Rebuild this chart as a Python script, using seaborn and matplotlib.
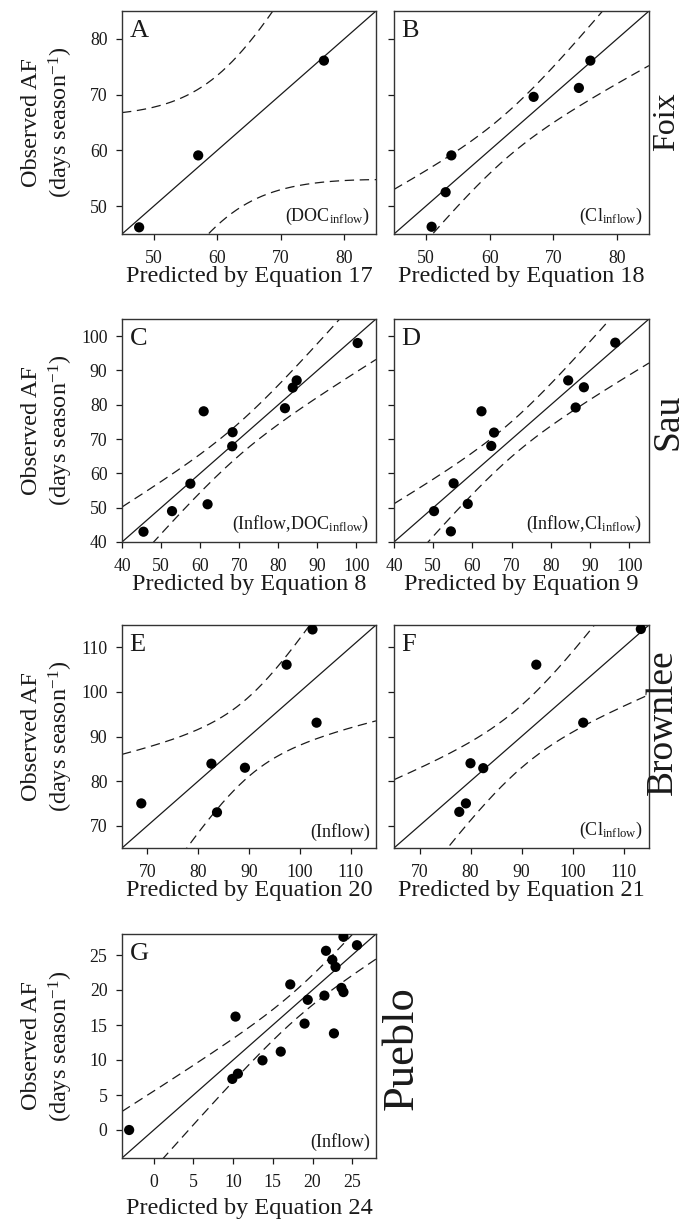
import numpy as np
import matplotlib
matplotlib.use("Agg")
import matplotlib.pyplot as plt
import seaborn as sns

# Observed vs predicted algal-bloom frequency (AF) for each reservoir model
a_pred = [47.7, 57.0, 76.8]
a_obs = [46.2, 59.1, 76.1]

b_pred = [50.9, 53.1, 54.0, 66.9, 74.0, 75.8]
b_obs = [46.3, 52.5, 59.1, 69.6, 71.2, 76.1]

c_pred = [45.5, 52.8, 57.5, 60.9, 61.9, 68.2, 68.3, 81.7, 83.7, 84.7, 100.3]
c_obs = [43.0, 49.0, 57.0, 78.1, 51.0, 67.9, 72.0, 79.0, 85.0, 87.1, 98.0]

d_pred = [50.2, 54.5, 55.2, 58.8, 62.3, 64.8, 65.5, 84.4, 86.3, 88.4, 96.4]
d_obs = [49.0, 43.1, 57.1, 51.1, 78.1, 68.0, 71.9, 87.1, 79.2, 85.1, 98.1]

e_pred = [68.8, 82.6, 83.7, 89.2, 97.4, 102.5, 103.3]
e_obs = [75.0, 83.9, 73.0, 83.0, 106.1, 114.0, 93.1]

f_pred = [77.8, 79.1, 80.0, 82.5, 92.9, 102.1, 113.4]
f_obs = [73.1, 75.0, 84.0, 82.9, 106.1, 93.1, 114.1]

g_pred = [-3.1, 9.9, 10.6, 10.3, 13.7, 16.0, 17.2, 19.0, 19.4, 21.5,
          21.7, 22.5, 22.9, 22.7, 23.65, 23.9, 23.9, 25.6]
g_obs = [0.0, 7.3, 8.05, 16.2, 9.95, 11.2, 20.8, 15.2, 18.6, 19.2,
         25.6, 24.3, 23.3, 13.8, 20.3, 19.7, 27.6, 26.4]

# standard error of estimate behind each 95% confidence band
band_se = [1.83, 3.56, 6.96, 7.5, 9.16, 7.2, 4.1]

panel_letters = ["A", "B", "C", "D", "E", "F", "G"]
equations = ["17", "18", "8", "9", "20", "21", "24"]
predictors = [r"(DOC$_{\mathrm{inflow}}$)", r"(Cl$_{\mathrm{inflow}}$)",
              r"(Inflow,DOC$_{\mathrm{inflow}}$)", r"(Inflow,Cl$_{\mathrm{inflow}}$)",
              "(Inflow)", r"(Cl$_{\mathrm{inflow}}$)", "(Inflow)"]
reservoirs = ["Foix", "Sau", "Brownlee", "Pueblo"]

axis_limits = [(45, 85), (45, 85), (40, 105), (40, 105), (65, 115), (65, 115), (-4, 28)]
axis_ticks = [[50, 60, 70, 80], [50, 60, 70, 80],
              [40, 50, 60, 70, 80, 90, 100], [40, 50, 60, 70, 80, 90, 100],
              [70, 80, 90, 100, 110], [70, 80, 90, 100, 110],
              [0, 5, 10, 15, 20, 25]]

# two-sided 95% Student t quantiles by degrees of freedom
T95 = {1: 12.706, 2: 4.303, 3: 3.182, 4: 2.776, 5: 2.571, 6: 2.447, 7: 2.365,
       8: 2.306, 9: 2.262, 10: 2.228, 11: 2.201, 12: 2.179, 13: 2.160,
       14: 2.145, 15: 2.131, 16: 2.120, 17: 2.110, 18: 2.101, 19: 2.093, 20: 2.086}

sns.set_theme(style="ticks")
plt.rcParams["font.family"] = ["Liberation Serif", "DejaVu Serif"]
plt.rcParams["mathtext.fontset"] = "custom"
plt.rcParams["mathtext.rm"] = "Liberation Serif"
plt.rcParams["mathtext.it"] = "Liberation Serif:italic"
plt.rcParams["mathtext.default"] = "regular"

W, H = 683, 1227
fig = plt.figure(figsize=(W / 100, H / 100), dpi=100)
fig.patch.set_facecolor("white")

cols = [(122, 376), (394, 649)]
rows = [(11, 234), (319, 542), (625, 848), (934, 1158)]
xlabel_y = [-0.145, -0.145, -0.145, -0.18]

data = [(a_pred, a_obs), (b_pred, b_obs), (c_pred, c_obs), (d_pred, d_obs),
        (e_pred, e_obs), (f_pred, f_obs), (g_pred, g_obs)]

ink = "#1a1a1a"

for i, (pred, obs) in enumerate(data):
    r, c = divmod(i, 2)
    left, right = cols[c]
    top, bottom = rows[r]
    ax = fig.add_axes([left / W, 1 - bottom / H, (right - left) / W, (bottom - top) / H])
    lo, hi = axis_limits[i]

    x = np.asarray(pred, dtype=float)
    y = np.asarray(obs, dtype=float)
    n = len(x)

    # observed-on-predicted regression is the 1:1 line; band = 95% CI of that line
    xbar = x.mean()
    sxx = np.sum((x - xbar) ** 2)
    grid = np.linspace(lo, hi, 300)
    fit = grid.copy()
    half = T95[n - 2] * band_se[i] * np.sqrt(1.0 / n + (grid - xbar) ** 2 / sxx)

    ax.plot(grid, fit, color=ink, lw=0.9, zorder=2)
    ax.plot(grid, fit + half, color=ink, lw=0.9, dashes=(7.5, 4.5), zorder=2)
    ax.plot(grid, fit - half, color=ink, lw=0.9, dashes=(7.5, 4.5), zorder=2)

    sns.scatterplot(x=x, y=y, ax=ax, color="black", s=54, edgecolor="none",
                    zorder=3, legend=False)

    ax.set_xlim(lo, hi)
    ax.set_ylim(lo, hi)
    ax.set_xticks(axis_ticks[i])
    ax.set_yticks(axis_ticks[i])
    ax.tick_params(axis="both", direction="out", length=4.5, width=0.9,
                   colors=ink, labelsize=12.8)
    ax.tick_params(axis="x", pad=7)
    ax.tick_params(axis="y", pad=6)
    for sp in ax.spines.values():
        sp.set_visible(True)
        sp.set_color("#333333")
        sp.set_linewidth(1.0)

    ax.set_xlabel(f"Predicted by Equation {equations[i]}", fontsize=17.5, color=ink)
    ax.xaxis.set_label_coords(0.5, xlabel_y[r])
    if c == 0:
        ax.set_ylabel("Observed AF\n(days season$^{-1}$)", fontsize=17.5, color=ink)
        ax.yaxis.set_label_coords(-0.187, 0.5)
    else:
        ax.set_ylabel("")
        ax.set_yticklabels([])

    ax.text(0.03, 0.958, panel_letters[i], transform=ax.transAxes,
            ha="left", va="top", fontsize=19, color=ink)
    ax.text(0.975, 0.03, predictors[i], transform=ax.transAxes,
            ha="right", va="bottom", fontsize=13, color=ink)

# reservoir names beside each row
row_label_pos = [(667, 122, 23), (668, 422, 27), (663, 722, 27), (402, 1048, 32)]
for name, (px, py, fs) in zip(reservoirs, row_label_pos):
    fig.text(px / W, 1 - py / H, name, rotation=90, ha="center", va="center",
             fontsize=fs, color=ink)

fig.savefig("out.png", dpi=100, facecolor="white")
